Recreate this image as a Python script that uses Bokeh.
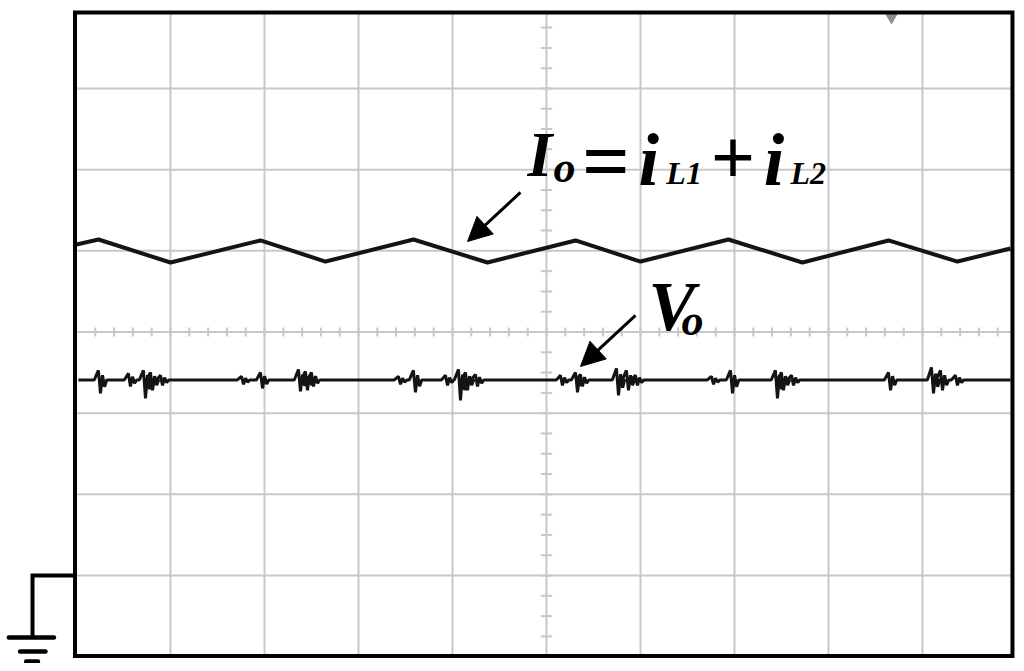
import numpy as np
from bokeh.plotting import figure
from bokeh.models import Range1d, Label, Arrow, NormalHead
from bokeh.embed import file_html
from bokeh.resources import INLINE

# ---- oscilloscope screen (units: divisions) ----
x_grid = [1, 2, 3, 4, 5, 6, 7, 8, 9]
y_grid = [1, 2, 3, 4, 5, 6, 7]
center_x = 5
center_y = 4
screen_left, screen_right = -0.016, 9.957
screen_bottom, screen_top = 0.009, 7.937
ground_level = 1.0

# ---- output current Io = iL1 + iL2 (trace vertices, divisions) ----
io_t = [0.0, 0.234, 1.0, 1.957, 2.649, 3.585, 4.372, 5.309, 6.0, 6.936,
        7.723, 8.638, 9.372, 9.936]
io_v = [5.078, 5.140, 4.856, 5.128, 4.868, 5.140, 4.856, 5.128, 4.868, 5.140,
        4.856, 5.128, 4.868, 5.029]

# ---- output voltage Vo (flat level with switching spikes) ----
vo_level = 3.409
vo_start, vo_end = 0.02, 9.936
spike_t = [0.255, 0.574, 0.734, 0.809, 0.915, 1.777, 1.979, 2.383, 2.457, 2.521,
           3.447, 3.606, 3.947, 4.085, 4.160, 4.266, 5.170, 5.330, 5.383, 5.766,
           5.872, 5.968, 6.777, 6.979, 7.457, 7.521, 7.628, 8.660, 9.117, 9.213,
           9.372]
spike_hi = [3.527, 3.490, 3.527, 3.503, 3.466, 3.454, 3.503, 3.539, 3.515, 3.503,
            3.454, 3.527, 3.466, 3.539, 3.503, 3.478, 3.466, 3.503, 3.478, 3.551,
            3.527, 3.466, 3.454, 3.527, 3.527, 3.503, 3.466, 3.503, 3.564, 3.527,
            3.466]
spike_lo = [3.243, 3.329, 3.182, 3.281, 3.342, 3.355, 3.305, 3.268, 3.281, 3.329,
            3.355, 3.256, 3.342, 3.158, 3.281, 3.329, 3.342, 3.256, 3.329, 3.219,
            3.281, 3.342, 3.355, 3.243, 3.182, 3.281, 3.342, 3.281, 3.243, 3.281,
            3.342]

trigger_t, trigger_v = 8.67, 7.875

# polyline of Vo: each spike is a short ringing burst around the flat level
vo_t = [vo_start]
vo_v = [vo_level]
hw = 0.022
for t, hi, lo in zip(spike_t, spike_hi, spike_lo):
    vo_t += [t - 3 * hw, t - 2 * hw, t - hw, t, t + hw, t + 2 * hw, t + 3 * hw]
    vo_v += [vo_level, (vo_level + hi) / 2, hi, lo, (hi + vo_level) / 2,
             (lo + vo_level) / 2, vo_level]
vo_t.append(vo_end)
vo_v.append(vo_level)

p = figure(width=1016, height=663,
           x_range=Range1d(-0.8085, 10.0), y_range=Range1d(-0.0838, 8.084),
           x_axis_type=None, y_axis_type=None,
           toolbar_location=None, output_backend="svg", min_border=0)
p.outline_line_color = None
p.background_fill_color = "white"
p.border_fill_color = "white"

grid_color = "#c8c8c8"
# major grid
p.segment(x0=x_grid, y0=[screen_bottom] * len(x_grid), x1=x_grid, y1=[screen_top] * len(x_grid),
          line_color=grid_color, line_width=2)
p.segment(x0=[0] * len(y_grid), y0=y_grid, x1=[screen_right] * len(y_grid), y1=y_grid,
          line_color=grid_color, line_width=2)
# minor ticks on the centre axes
xm = np.arange(0.2, 9.9, 0.2)
p.segment(x0=xm, y0=center_y - 0.055, x1=xm, y1=center_y + 0.055,
          line_color=grid_color, line_width=2)
ym = np.arange(0.25, 7.9, 0.25)
p.segment(x0=center_x - 0.06, y0=ym, x1=center_x + 0.06, y1=ym,
          line_color=grid_color, line_width=2)

# traces
p.line(io_t, io_v, line_color="#141414", line_width=4)
p.line(vo_t, vo_v, line_color="#141414", line_width=3)

# trigger marker
p.scatter([trigger_t], [trigger_v], marker="inverted_triangle", size=11,
          color="#8c8c8c")

# screen border
p.quad(left=[screen_left], right=[screen_right], bottom=[screen_bottom], top=[screen_top],
       fill_color=None, line_color="black", line_width=4, line_join="miter")

# ground symbol
gx = -0.468
p.line([screen_left, gx, gx], [ground_level, ground_level, 0.237],
       line_color="black", line_width=4, line_join="miter")
p.segment(x0=[-0.72, -0.60, -0.535], y0=[0.237, 0.064, -0.059],
          x1=[-0.24, -0.33, -0.41], y1=[0.237, 0.064, -0.059],
          line_color="black", line_width=4.5, line_cap="round")

# arrows
for xs, ys, xe, ye in [(4.723, 5.719, 4.160, 5.115), (5.947, 4.204, 5.362, 3.576)]:
    p.add_layout(Arrow(end=NormalHead(size=24, fill_color="black", line_color="black"),
                       x_start=xs, y_start=ys, x_end=xe, y_end=ye,
                       line_color="black", line_width=3))

serif = "Liberation Serif"
labels = [
    ("I", 4.798, 6.185, 64, "left"),
    ("o", 5.074, 6.027, 44, "left"),
    ("=", 5.633, 6.101, 84, "center"),
    ("i", 5.98, 6.123, 74, "left"),
    ("L1", 6.275, 5.964, 32, "left"),
    ("+", 6.984, 6.138, 78, "center"),
    ("i", 7.31, 6.123, 74, "left"),
    ("L2", 7.596, 5.964, 32, "left"),
    ("V", 6.085, 4.312, 70, "left"),
    ("o", 6.436, 4.142, 44, "left"),
]
for txt, lx, ly, fs, al in labels:
    style = "bold" if txt in ("=", "+") else "bold italic"
    p.add_layout(Label(x=lx, y=ly, text=txt, text_font=serif, text_font_style=style,
                       text_font_size=f"{fs}px", text_color="black",
                       text_align=al, text_baseline="alphabetic"))

open("out.html", "w").write(file_html(p, INLINE))
